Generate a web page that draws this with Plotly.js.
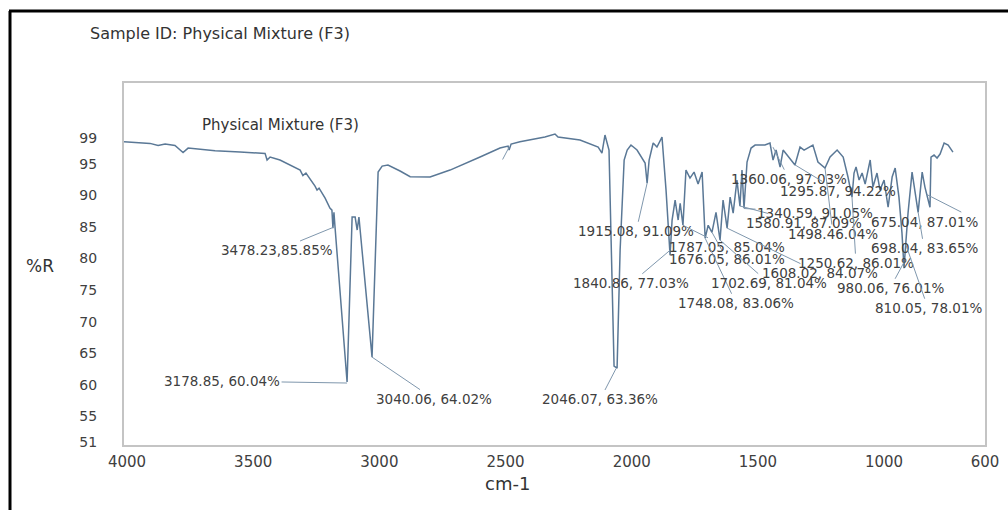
<!DOCTYPE html>
<html>
<head>
<meta charset="utf-8">
<script src="https://cdn.plot.ly/plotly-3.0.1.min.js"></script>
<style>
  html, body { margin: 0; padding: 0; background: #ffffff; }
  #chart { width: 1008px; height: 510px; }
</style>
</head>
<body>
<div id="chart"></div>
<script>
// Spectrum, wavenumber (cm-1) and %R
const wavenumber = [4012,3948,3909,3877,3849,3810,3778,3758,3711,3651,3552,3453,3445,3433,3394,3354,3314,3303,3291,3255,3247,3239,3215,3196,3188,3184,3180,3176,3128,3108,3096,3088,3081,3029,3005,2989,2966,2918,2878,2799,2720,2601,2522,2490,2486,2478,2443,2344,2304,2292,2205,2133,2118,2106,2090,2070,2058,2046,2030,2018,2003,1979,1947,1939,1931,1915,1900,1880,1864,1848,1840,1828,1816,1808,1797,1785,1769,1753,1737,1721,1709,1697,1682,1666,1650,1638,1622,1610,1598,1583,1571,1563,1555,1543,1527,1511,1472,1452,1440,1428,1412,1400,1384,1353,1333,1317,1282,1262,1234,1214,1186,1162,1143,1127,1119,1111,1099,1087,1075,1055,1044,1028,1016,1000,984,968,956,941,929,921,913,905,889,877,865,849,838,818,814,802,790,778,762,746,727];
const reflectance = [98.46,98.33,98.2,97.86,98.1,97.86,96.75,97.46,97.3,97.04,96.83,96.62,95.57,96.04,95.57,94.77,93.98,93.11,93.51,91.45,90.82,91.13,89.55,87.97,87.65,84.8,87.3,85.1,60.47,86.55,86.55,84.5,86.55,64.4,93.66,94.61,94.77,93.83,92.92,92.88,93.98,96.04,97.46,97.78,97.15,98.1,98.46,99.2,99.68,99.2,98.73,97.62,96.67,99.52,97.15,62.98,62.66,81.3,95.57,97.15,97.94,97.15,95.1,91.9,95.57,98.26,97.62,99.2,90.8,80.5,86.08,89.24,86.08,88.73,85.25,93.98,92.71,93.66,91.76,93.66,83.22,85.25,84.14,87.3,82.9,89.24,84.8,89.71,87.18,92.4,88.26,93.98,87.94,95.25,97.46,97.94,97.94,98.26,95.57,97.15,94.46,97.15,96.35,94.77,97.62,97.15,97.94,95.25,94.3,96.04,97.15,96.04,92.88,89.71,93.51,94.46,92.4,93.51,91.76,95.57,91.29,93.51,90.82,92.4,88.1,92.88,94.3,89.71,84.0,78.47,82.9,87.18,93.66,90.82,87.3,93.66,91.29,88.1,96.04,96.35,95.88,96.51,98.26,97.94,96.83];

// Peak labels and the curve points they point at
const peakLabels = ["3478.23,85.85%","3178.85, 60.04%","3040.06, 64.02%","2046.07, 63.36%","1915.08, 91.09%","1840.86, 77.03%","1787.05, 85.04%","1676.05, 86.01%","1748.08, 83.06%","1702.69, 81.04%","1608.02, 84.07%","1580.91, 87.09%","1340.59, 91.05%","1360.06, 97.03%","1295.87, 94.22%","1498.46.04%","1250.62, 86.01%","675.04, 87.01%","698.04, 83.65%","980.06, 76.01%","810.05, 78.01%"," "];
const peakW = [3184,3128,3029,2062,1939,1848,1797,1682,1709,1650,1622,1571,1555,1440,1353,1234,1127,830,865,921,913,2486];
const peakV = [84.9,60.3,64.4,62.6,91.9,81.3,85.25,84.14,83.2,82.9,84.8,88.3,87.9,97.6,94.8,94.3,89.7,90.1,87.3,79.4,82.1,97.6];

const yTicks = [51,55,60,65,70,75,80,85,90,95,99];
const xTicks = [4000,3500,3000,2500,2000,1500,1000,600];

// label text offsets (pixels from arrow tip) and anchors
const labelOffsets = [[-56,23],[-125,-2],[62,42],[-16,31],[-11,48],[-39,33],[44,22],[15,27],[31,65],[49,43],[93,45],[64,17],[71,4],[16,32],[43,26],[8,66],[4,66],[53,27],[6,36],[-14,26],[22,63],[-10,19]];
const labelAnchors = ["auto","auto","auto","auto","auto","auto","auto","auto","auto","auto","auto","auto","auto","auto","auto","auto","auto","right","auto","auto","auto","auto"];

const txtColor = '#404040';
const fontFam = 'DejaVu Sans, Verdana, sans-serif';

const annotations = peakLabels.map((t, i) => ({
  x: peakW[i], y: peakV[i], xref: 'x', yref: 'y',
  text: t, showarrow: true, arrowhead: 0, arrowwidth: 1, arrowcolor: '#7f97ad',
  ax: labelOffsets[i][0], ay: labelOffsets[i][1],
  xanchor: labelAnchors[i],
  font: {family: fontFam, size: 13.5, color: txtColor}
}));

// plot area in pixels: x 124..985, y 83..445
const L = 124, R = 985, T = 83, B = 445;
const px = v => (v - L) / (R - L);
const py = v => (B - v) / (B - T);

annotations.push({
  xref: 'paper', yref: 'paper', x: px(200), y: py(125), xanchor: 'left', yanchor: 'middle',
  text: 'Physical Mixture (F3)', showarrow: false,
  font: {family: fontFam, size: 15, color: '#333333'}
});
annotations.push({
  xref: 'paper', yref: 'paper', x: px(40), y: py(266), xanchor: 'center', yanchor: 'middle',
  text: '%R', showarrow: false,
  font: {family: fontFam, size: 17, color: '#333333'}
});
annotations.push({
  xref: 'paper', yref: 'paper', x: px(507), y: py(483), xanchor: 'center', yanchor: 'middle',
  text: 'cm-1', showarrow: false,
  font: {family: fontFam, size: 18, color: '#333333'}
});

const trace = {
  x: wavenumber, y: reflectance, type: 'scatter', mode: 'lines',
  line: {color: '#5a7896', width: 1.5}, hoverinfo: 'x+y'
};

const layout = {
  width: 1008, height: 510,
  margin: {l: L, r: 1008 - R, t: T, b: 510 - B, pad: 0},
  paper_bgcolor: '#ffffff', plot_bgcolor: '#ffffff',
  showlegend: false,
  title: {
    text: 'Sample ID: Physical Mixture (F3)',
    font: {family: fontFam, size: 16, color: '#333333'},
    xref: 'container', yref: 'container',
    x: 90 / 1008, xanchor: 'left', y: 1 - 33 / 510, yanchor: 'middle'
  },
  xaxis: {
    range: [4012, 600], tickvals: xTicks, ticktext: xTicks.map(String),
    showgrid: false, zeroline: false, showline: true, mirror: true,
    linecolor: '#c4c4c4', linewidth: 2, ticks: '', ticklabelstandoff: 2,
    tickfont: {family: fontFam, size: 15, color: txtColor}
  },
  yaxis: {
    range: [50.5, 107.75], tickvals: yTicks, ticktext: yTicks.map(String),
    showgrid: false, zeroline: false, showline: true, mirror: true,
    linecolor: '#c4c4c4', linewidth: 2, ticks: '', ticklabelstandoff: 22,
    tickfont: {family: fontFam, size: 14, color: txtColor}
  },
  annotations: annotations,
  shapes: [
    {type: 'line', xref: 'paper', yref: 'paper', x0: px(10), x1: px(10), y0: py(512), y1: py(11),
     line: {color: '#000000', width: 3}},
    {type: 'line', xref: 'paper', yref: 'paper', x0: px(9), x1: px(1010), y0: py(11), y1: py(11),
     line: {color: '#000000', width: 3}}
  ]
};

Plotly.newPlot('chart', [trace], layout, {displayModeBar: false, staticPlot: true});
</script>
</body>
</html>
